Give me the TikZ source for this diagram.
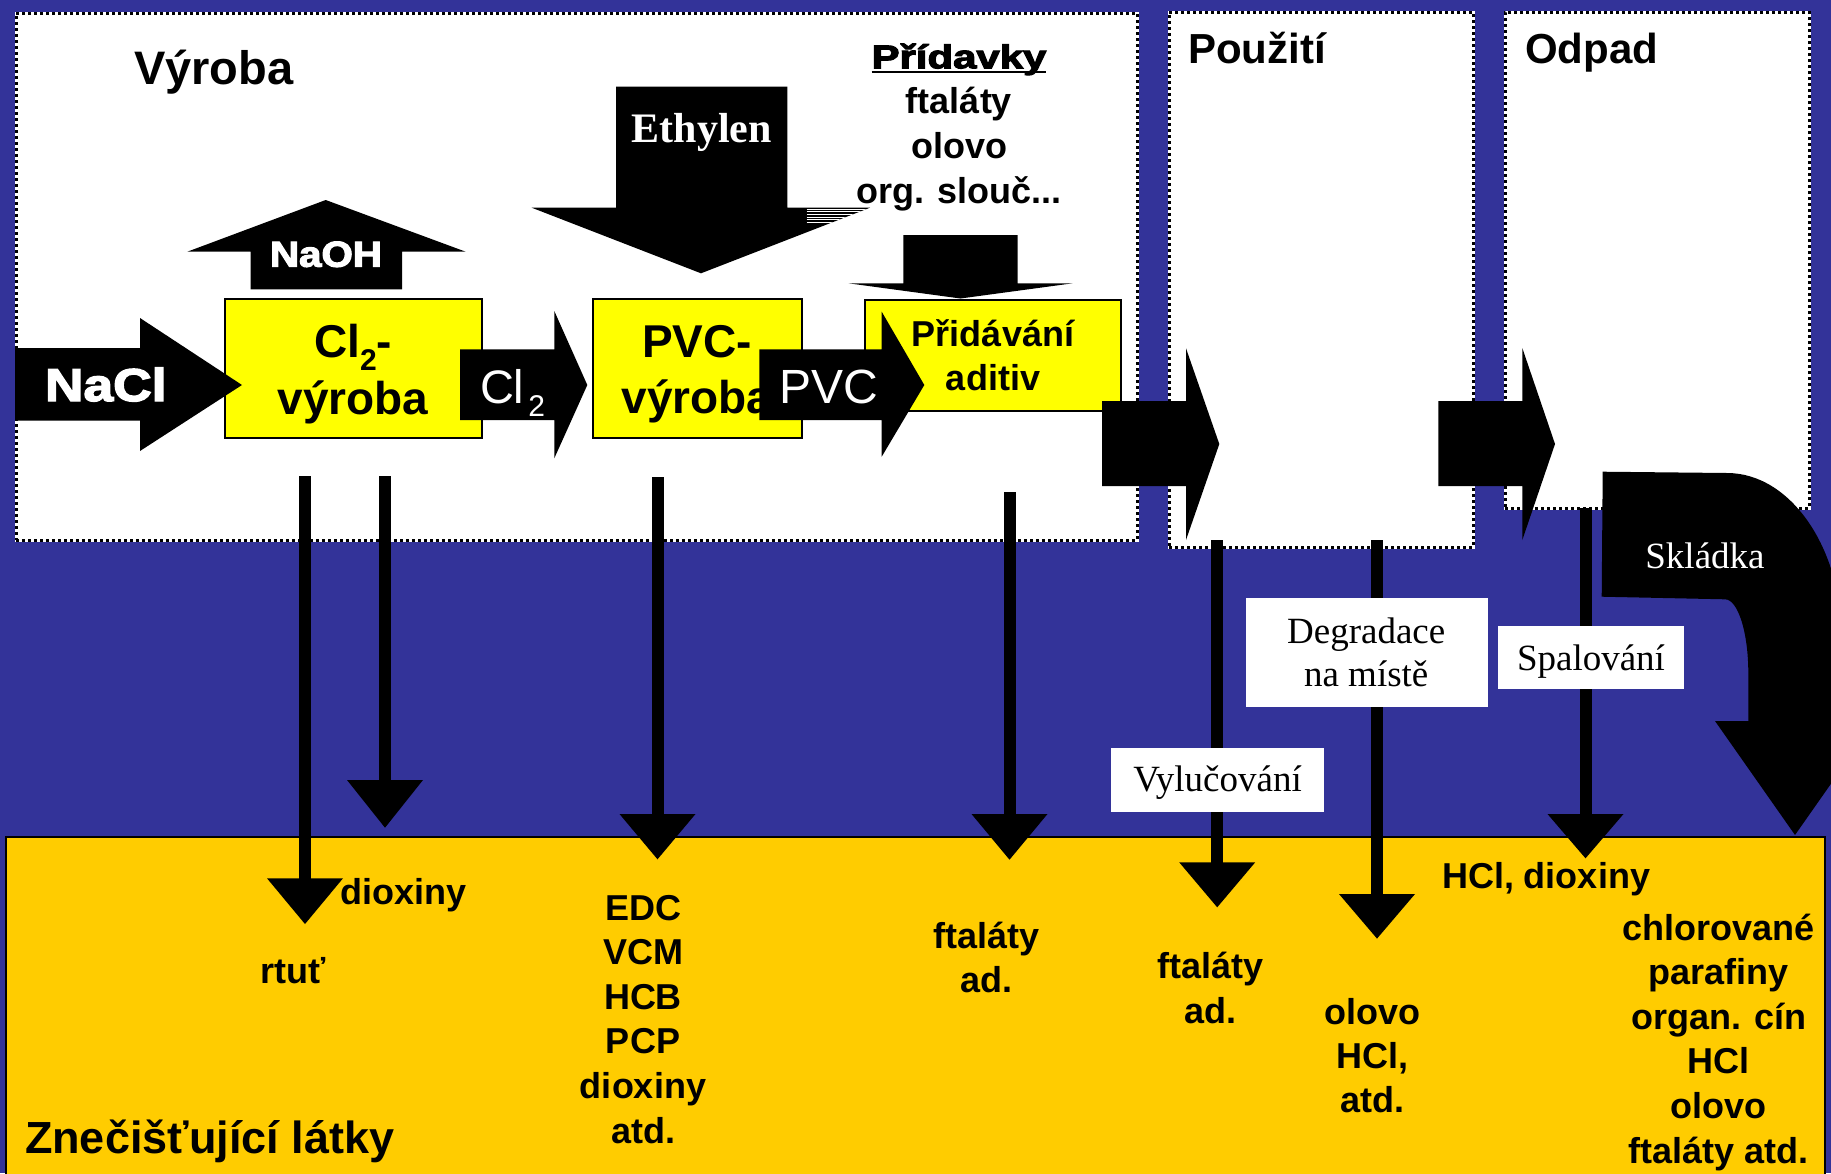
\documentclass[tikz,border=0pt]{standalone}
\usepackage{fontspec}
\setmainfont{Liberation Sans}
\newfontfamily\serif{Liberation Serif}
\newfontfamily\heavy{Liberation Sans}[BoldFeatures={FakeBold=3}]
\definecolor{bgblue}{RGB}{51,51,153}
\definecolor{gold}{RGB}{255,204,0}
\definecolor{boxy}{RGB}{255,255,0}
\newcommand\fsz[1]{\fontsize{#1}{#1}\selectfont}
\newcommand\subtwo{\raisebox{-13pt}{\fsz{30}2}}
\begin{document}
\begin{tikzpicture}[x=1pt,y=-1pt,
  panel/.style={rectangle, inner sep=0, outer sep=0, fill=white, draw=black, line width=3pt, dash pattern=on 3pt off 3pt, preaction={draw=white, solid, line width=3pt}},
  ybox/.style={rectangle, inner sep=0, outer sep=0, fill=boxy, draw=black, line width=2pt},
  lbox/.style={rectangle, inner sep=0, outer sep=0, fill=white},
  txt/.style={inner sep=0, outer sep=0, anchor=base, font=\bfseries},
  stxt/.style={inner sep=0, outer sep=0, anchor=base, font=\serif\fsz{37}},
  btxt/.style={txt, font=\bfseries\fsz{36}}
]
\useasboundingbox (0,0) rectangle (1831,1173);
\clip (0,0) rectangle (1831,1173);
\fill[bgblue] (0,0) rectangle (1831,1173);

% pollutant region
\node[rectangle, inner sep=0, outer sep=0, fill=gold, draw=black, line width=2pt, minimum width=1819pt, minimum height=343pt] (latky) at (915.5,1008.5) {};

% panels
\node[panel, minimum width=1121pt, minimum height=527pt] (vyroba) at (576.5,276.5) {};
\node[panel, minimum width=304pt, minimum height=535pt] (pouziti) at (1321,279.5) {};
\node[panel, minimum width=304pt, minimum height=496pt] (odpad) at (1657,260) {};

% NaOH arrow (up)
\fill (250.7,289.3) -- (250.7,251.7) -- (187.3,251.7) -- (325.7,200) -- (465.7,251.7) -- (402,251.7) -- (402,289.3) -- cycle;
% Ethylen arrow (down)
\fill (616,86.7) -- (787.3,86.7) -- (787.3,207.7) -- (870,207.7) -- (701,273.3) -- (531.7,207.7) -- (616,207.7) -- cycle;
\begin{scope}
\clip (531.7,207.7) -- (870,207.7) -- (701,273.3) -- cycle;
\foreach \yy in {209.2,211.8,214.4,217,219.6,222.2} \draw[white, line width=0.9pt] (806.7,\yy) -- (880,\yy);
\end{scope}
% Pridavky arrow (down)
\fill (903.3,235) -- (1017.7,235) -- (1017.7,283.3) -- (1072.7,283.3) -- (960.5,298.5) -- (848.5,283.3) -- (903.3,283.3) -- cycle;

% yellow process boxes
\node[ybox, minimum width=257pt, minimum height=139.3pt] (clbox) at (353,368.7) {};
\node[ybox, minimum width=209pt, minimum height=138.4pt] (pvcbox) at (697,368.5) {};
\node[ybox, minimum width=256pt, minimum height=110.7pt] (adbox) at (993,355.3) {};
\node[txt, font=\bfseries\fsz{46}] (cl1) at (353,357) {Cl\subtwo-};
\node[txt, font=\bfseries\fsz{46}] (cl2) at (353,414) {výroba};
\node[txt, font=\bfseries\fsz{46}] (pv1) at (697,357) {PVC-};
\node[txt, font=\bfseries\fsz{46}] (pv2) at (697,413.3) {výroba};
\node[txt, font=\bfseries\fsz{36}] (ad1) at (993,346.7) {Přidávání};
\node[txt, font=\bfseries\fsz{36}] (ad2) at (993,390.7) {aditiv};

% horizontal block arrows
\fill (15,348.2) -- (140,348.2) -- (140,318) -- (242,385) -- (140,451) -- (140,420.7) -- (15,420.7) -- cycle;
\fill (460,349.3) -- (554.3,349.3) -- (554.3,311) -- (587.3,385) -- (554.3,458.3) -- (554.3,420) -- (460,420) -- cycle;
\fill (759.3,349.3) -- (881.7,349.3) -- (881.7,311.7) -- (924.3,385) -- (881.7,456.7) -- (881.7,420) -- (759.3,420) -- cycle;
\fill (1102,401) -- (1186,401) -- (1186,348.3) -- (1219.3,444) -- (1186,540) -- (1186,486) -- (1102,486) -- cycle;
\fill (1438.3,401) -- (1522.3,401) -- (1522.3,348) -- (1555,444) -- (1522.3,540) -- (1522.3,486) -- (1438.3,486) -- cycle;

\node[txt, anchor=base west, text=white, font=\heavy\bfseries\fsz{46}] (nacl) at (45,401) {\scalebox{1.16}[1]{NaCl}};
\node[txt, text=white, font=\heavy\bfseries\fsz{36}] (naoh) at (326,266.7) {\scalebox{1.12}[1]{NaOH}};
\node[txt, anchor=base west, text=white, font=\fsz{47}] (cltxt) at (480,403.3) {Cl\hspace{4pt}\subtwo};
\node[txt, anchor=base west, text=white, font=\fsz{48}] (pvctxt) at (779,403.3) {PVC};
\node[txt, text=white, font=\serif\bfseries\fsz{42}] (eth) at (701.7,142.7) {Ethylen};

% vertical emission arrows
\foreach \x/\ya/\yb/\yc in {305/476/878.3/924, 385/476/780/827.7, 657.5/476.7/814/859.3, 1009.5/491.7/814/859.7, 1217.2/540/862.3/907.3, 1377/540/894/938.6, 1585.5/508/814/858.3}{
  \fill (\x-6,\ya) rectangle (\x+6,\yb+1);
  \fill (\x-38,\yb) -- (\x+38,\yb) -- (\x,\yc) -- cycle;
}

% Skladka curved arrow
\fill (1602.7,471.7) -- (1727,473) .. controls (1790.5,473) and (1842,547.8) .. (1842,640) -- (1842,721) -- (1875,721) -- (1795,835) -- (1715,721) -- (1748.3,721) -- (1748.3,673) .. controls (1748.3,632.3) and (1737.9,599.3) .. (1725,599.3) -- (1601.7,596.7) -- cycle;
\node[stxt, text=white] (skl) at (1705,568.3) {Skládka};

% label boxes
\node[lbox, minimum width=241.7pt, minimum height=109pt] (degbox) at (1366.9,652.2) {};
\node[lbox, minimum width=213pt, minimum height=64pt] (vylbox) at (1217.5,779.7) {};
\node[lbox, minimum width=186pt, minimum height=63.3pt] (spabox) at (1591.3,657.7) {};
\node[stxt] (deg1) at (1366.2,643.3) {Degradace};
\node[stxt] (deg2) at (1366.2,686.7) {na místě};
\node[stxt] (vyl) at (1217.5,791.7) {Vylučování};
\node[stxt] (spa) at (1591,670.7) {Spalování};

% titles
\node[txt, anchor=base west, font=\bfseries\fsz{47}] (tv) at (134,84) {Výroba};
\node[txt, anchor=base west, font=\bfseries\fsz{42}] (tp) at (1188,63) {Použití};
\node[txt, anchor=base west, font=\bfseries\fsz{42}] (to) at (1525,63) {Odpad};
\node[txt, font=\heavy\bfseries\fsz{33}] (prid) at (959,68.3) {\scalebox{1.27}[1]{Přídavky}};
\draw[line width=2.3pt] ([yshift=-4pt]prid.base west) -- ([yshift=-4pt]prid.base east);
\node[btxt] (pr1) at (959,113.3) {ftaláty};
\node[btxt] (pr2) at (959,158.3) {olovo};
\node[btxt] (pr3) at (959,203.3) {org. slouč...};

% pollutants
\node[txt, anchor=base west, font=\bfseries\fsz{45}] (zl) at (25,1153.3) {Znečišťující látky};
\node[btxt, anchor=base west] (dx1) at (340,904) {dioxiny};
\node[btxt] (rtut) at (292.7,983.3) {rtuť};
\foreach \t [count=\i] in {EDC,VCM,HCB,PCP,dioxiny,atd.} \node[btxt] (edc\i) at (643,{920+44.66*(\i-1)}) {\t};
\node[btxt] (ft1) at (986.3,948.3) {ftaláty};
\node[btxt] (ad1b) at (986.3,992.7) {ad.};
\node[btxt] (ft2) at (1210.5,978.3) {ftaláty};
\node[btxt] (ad2b) at (1210.5,1023.3) {ad.};
\node[btxt] (ol1) at (1372.7,1024) {olovo};
\node[btxt] (ol2) at (1372.7,1068.2) {HCl,};
\node[btxt] (ol3) at (1372.7,1112.4) {atd.};
\node[btxt, anchor=base west] (hcl) at (1442,888.3) {HCl, dioxiny};
\foreach \t [count=\i] in {chlorované,parafiny,organ. cín,HCl,olovo,ftaláty atd.} \node[btxt] (ch\i) at (1718.8,{940+44.6*(\i-1)}) {\t};
\end{tikzpicture}
\end{document}
